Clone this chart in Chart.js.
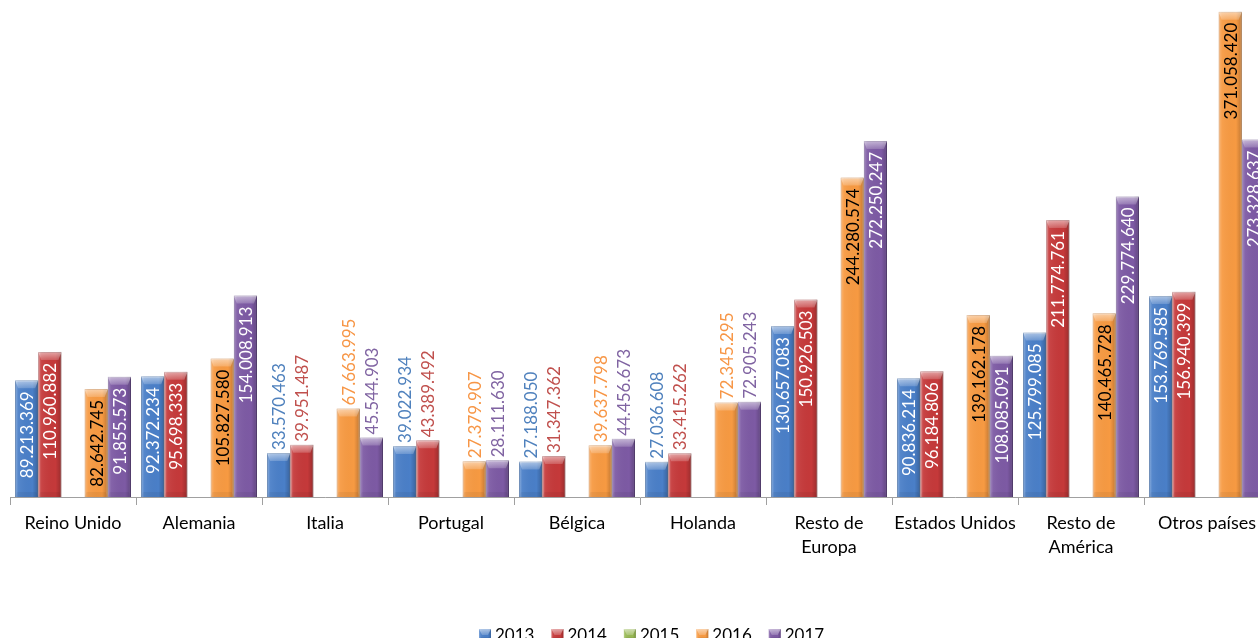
<!DOCTYPE html>
<html>
<head>
<meta charset="utf-8">
<script src="https://cdn.jsdelivr.net/npm/chart.js@4"></script>
<style>
  html, body { margin: 0; padding: 0; overflow: hidden; background: #fff; }
</style>
</head>
<body>
<canvas id="chart" width="1270" height="650"></canvas>
<script>
// Chart data
const categories = ['Reino Unido', 'Alemania', 'Italia', 'Portugal', 'Bélgica', 'Holanda',
  ['Resto de', 'Europa'], 'Estados Unidos', ['Resto de', 'América'], 'Otros países'];
const years = ['2013', '2014', '2015', '2016', '2017'];

const values2013 = [89213369, 92372234, 33570463, 39022934, 27188050, 27036608, 130657083, 90836214, 125799085, 153769585];
const values2014 = [110960882, 95698333, 39951487, 43389492, 31347362, 33415262, 150926503, 96184806, 211774761, 156940399];
const values2015 = [null, null, null, null, null, null, null, null, null, null];
const values2016 = [82642745, 105827580, 67663995, 27379907, 39637798, 72345295, 244280574, 139162178, 140465728, 371058420];
const values2017 = [91855573, 154008913, 45544903, 28111630, 44456673, 72905243, 272250247, 108085091, 229774640, 273328637];

const seriesValues = [values2013, values2014, values2015, values2016, values2017];

// Styles
const barColors = ['#4a7fc8', '#c5393a', '#98b954', '#f79a42', '#7d5aa4'];
const edgeColors = ['#2f5d99', '#8e2527', '#6c8a35', '#c06a1c', '#56397a'];
const outsideLabelColors = ['#4f81bd', '#c0504d', '#9bbb59', '#f79646', '#8064a2'];
const insideLabelColors = ['#ffffff', '#ffffff', '#ffffff', '#000000', '#ffffff'];

function formatNumber(n) {
  return String(n).replace(/\B(?=(\d{3})+(?!\d))/g, '.');
}

function drawBevel(ctx, L, R, T, B) {
  const w = R - L, h = B - T;
  if (h <= 0) return;
  ctx.save();
  // side shading
  const g = ctx.createLinearGradient(L, 0, R, 0);
  g.addColorStop(0, 'rgba(255,255,255,0.30)');
  g.addColorStop(0.15, 'rgba(255,255,255,0.06)');
  g.addColorStop(0.75, 'rgba(0,0,0,0)');
  g.addColorStop(1, 'rgba(0,0,0,0.22)');
  ctx.fillStyle = g;
  ctx.fillRect(L, T, w, h);
  // top cap
  const c = Math.min(8, h / 2);
  ctx.beginPath();
  ctx.moveTo(L, T);
  ctx.lineTo(R, T);
  ctx.lineTo(R - 3, T + c);
  ctx.lineTo(L + 3, T + c);
  ctx.closePath();
  const tg = ctx.createLinearGradient(0, T, 0, T + c);
  tg.addColorStop(0, 'rgba(255,255,255,0.55)');
  tg.addColorStop(1, 'rgba(255,255,255,0.18)');
  ctx.fillStyle = tg;
  ctx.fill();
  // bottom cap, subtle
  const b = Math.min(5, h / 3);
  ctx.beginPath();
  ctx.moveTo(L + 2, B - b);
  ctx.lineTo(R - 2, B - b);
  ctx.lineTo(R, B);
  ctx.lineTo(L, B);
  ctx.closePath();
  ctx.fillStyle = 'rgba(0,0,0,0.05)';
  ctx.fill();
  ctx.restore();
}

// bevel + value labels
const barDecorPlugin = {
  id: 'barDecor',
  afterDatasetsDraw(chart) {
    const ctx = chart.ctx;
    chart.data.datasets.forEach((ds, di) => {
      const meta = chart.getDatasetMeta(di);
      meta.data.forEach((el, i) => {
        const v = ds.data[i];
        if (v === null || v === undefined) return;
        const L = el.x - el.width / 2, R = el.x + el.width / 2;
        drawBevel(ctx, L, R, el.y, el.base);
      });
    });
    ctx.save();
    ctx.font = '17px Lato';
    ctx.textBaseline = 'middle';
    chart.data.datasets.forEach((ds, di) => {
      const meta = chart.getDatasetMeta(di);
      meta.data.forEach((el, i) => {
        const v = ds.data[i];
        if (v === null || v === undefined) return;
        const text = formatNumber(v);
        const tw = ctx.measureText(text).width;
        const h = el.base - el.y;
        ctx.save();
        if (h >= tw + 18) {
          ctx.translate(el.x + 1, el.y + 11);
          ctx.rotate(-Math.PI / 2);
          ctx.textAlign = 'right';
          ctx.fillStyle = insideLabelColors[di];
        } else {
          ctx.translate(el.x + 1, el.y - 3);
          ctx.rotate(-Math.PI / 2);
          ctx.textAlign = 'left';
          ctx.fillStyle = outsideLabelColors[di];
        }
        ctx.fillText(text, 0, 0);
        ctx.restore();
      });
    });
    ctx.restore();
  },
  afterDraw(chart) {
    // legend at the bottom
    const ctx = chart.ctx;
    ctx.save();
    ctx.font = '17px Lato';
    ctx.textBaseline = 'middle';
    let x = 479;
    const y = 636;
    years.forEach((yr, i) => {
      ctx.fillStyle = barColors[i];
      ctx.fillRect(x, y - 7, 12, 12);
      drawBevel(ctx, x, x + 12, y - 7, y + 5);
      ctx.fillStyle = '#000';
      ctx.textAlign = 'left';
      ctx.fillText(yr, x + 16, y);
      x += 16 + ctx.measureText(yr).width + 17;
    });
    ctx.restore();
  }
};

const datasets = years.map((yr, i) => ({
  label: yr,
  data: seriesValues[i],
  backgroundColor: barColors[i],
  borderColor: edgeColors[i],
  borderWidth: 1,
  categoryPercentage: 0.92,
  barPercentage: 1.0
}));

new Chart(document.getElementById('chart'), {
  type: 'bar',
  data: { labels: categories, datasets: datasets },
  options: {
    responsive: false,
    animation: false,
    layout: { padding: { left: 10, right: 0, top: 0, bottom: 85 } },
    plugins: {
      legend: { display: false },
      tooltip: { enabled: false }
    },
    scales: {
      x: {
        grid: {
          display: true,
          drawOnChartArea: false,
          drawTicks: true,
          tickLength: 8,
          color: '#a0a0a0'
        },
        border: { display: true, color: '#a0a0a0' },
        ticks: {
          color: '#000',
          padding: 6,
          maxRotation: 0,
          autoSkip: false,
          font: { family: 'Lato', size: 18, lineHeight: 1.333 }
        }
      },
      y: {
        display: false,
        min: 0,
        max: 380000000
      }
    }
  },
  plugins: [barDecorPlugin]
});
</script>
</body>
</html>
